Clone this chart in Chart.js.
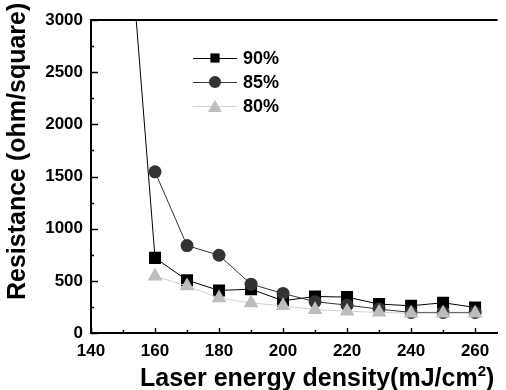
<!DOCTYPE html>
<html>
<head>
<meta charset="utf-8">
<script src="https://cdn.jsdelivr.net/npm/chart.js@4.4.0/dist/chart.umd.min.js"></script>
<style>
  html, body { margin: 0; padding: 0; background: #fff; }
  #wrap { width: 506px; height: 390px; }
</style>
</head>
<body>
<div id="wrap"><canvas id="c" width="506" height="390"></canvas></div>
<script>
  // values
  var energy   = [150, 160, 170, 180, 190, 200, 210, 220, 230, 240, 250, 260];
  var r90      = [4600, 720, 506, 408, 420, 309, 350, 344, 277, 261, 290, 245];
  var energy2  = [160, 170, 180, 190, 200, 210, 220, 230, 240, 250, 260];
  var r85      = [1545, 838, 745, 468, 379, 300, 267, 229, 197, 197, 197];
  var r80      = [545, 450, 335, 288, 260, 224, 208, 198, 190, 190, 190];
  var seriesNames = ['90%', '85%', '80%'];
  var xTicks = [140, 160, 180, 200, 220, 240, 260];
  var yTicks = [0, 500, 1000, 1500, 2000, 2500, 3000];

  var FONT = "'Liberation Sans', Arial, sans-serif";

  function pairs(xs, ys) {
    return xs.map(function (x, i) { return { x: x, y: ys[i] }; });
  }

  // inward ticks + top frame line, drawn from the scales
  var frame = {
    id: 'frame',
    afterDraw: function (chart) {
      var ctx = chart.ctx, a = chart.chartArea;
      var xs = chart.scales.x, ys = chart.scales.y;
      ctx.save();
      ctx.strokeStyle = '#000';
      ctx.lineWidth = 2;
      ctx.beginPath();
      ctx.moveTo(a.left - 1, a.top);
      ctx.lineTo(a.right, a.top);
      ctx.stroke();
      ctx.lineWidth = 1.5;
      xs.ticks.forEach(function (t) {
        var px = Math.round(xs.getPixelForValue(t.value)) + 0.5;
        var len = xTicks.indexOf(t.value) >= 0 ? 5 : 3;
        ctx.beginPath();
        ctx.moveTo(px, a.bottom);
        ctx.lineTo(px, a.bottom - len);
        ctx.stroke();
      });
      ys.ticks.forEach(function (t) {
        var py = Math.round(ys.getPixelForValue(t.value)) + 0.5;
        var len = yTicks.indexOf(t.value) >= 0 ? 7 : 3;
        ctx.beginPath();
        ctx.moveTo(a.left, py);
        ctx.lineTo(a.left + len, py);
        ctx.stroke();
      });
      ctx.restore();
    }
  };

  // axis titles drawn by hand for the cm² superscript
  var titles = {
    id: 'titles',
    afterDraw: function (chart) {
      var ctx = chart.ctx;
      ctx.save();
      ctx.fillStyle = '#000';
      ctx.textBaseline = 'alphabetic';
      var big = 'bold 25px ' + FONT, small = 'bold 15px ' + FONT;
      var main = 'Laser energy density(mJ/cm';
      ctx.font = big;
      var wMain = ctx.measureText(main).width;
      ctx.font = small;
      var wSup = ctx.measureText('2').width;
      ctx.font = big;
      var x0 = 140, y0 = 386;
      ctx.fillText(main, x0, y0);
      ctx.font = small;
      ctx.fillText('2', x0 + wMain, y0 - 10);
      ctx.font = big;
      ctx.fillText(')', x0 + wMain + wSup, y0);

      ctx.save();
      ctx.translate(25, 300);
      ctx.rotate(-Math.PI / 2);
      ctx.fillText('Resistance (ohm/square)', 0, 0);
      ctx.restore();
      ctx.restore();
    }
  };

  // legend inside the plot
  var innerLegend = {
    id: 'innerLegend',
    afterDraw: function (chart) {
      var ctx = chart.ctx;
      var rows = [58, 82, 106];
      var sizes = [6.5, 6, 8];
      ctx.save();
      chart.data.datasets.forEach(function (ds, i) {
        var y = rows[i];
        ctx.strokeStyle = ds.borderColor;
        ctx.lineWidth = 1;
        ctx.beginPath();
        ctx.moveTo(193, y + 0.5);
        ctx.lineTo(237, y + 0.5);
        ctx.stroke();
        ctx.fillStyle = ds.pointBackgroundColor;
        ctx.strokeStyle = ds.pointBackgroundColor;
        Chart.helpers.drawPoint(ctx, { pointStyle: ds.pointStyle, radius: sizes[i], borderWidth: 0 }, 215, y + (ds.pointStyle === 'triangle' ? 2 : 0));
        ctx.fillStyle = '#000';
        ctx.font = 'bold 18px ' + FONT;
        ctx.textBaseline = 'middle';
        ctx.fillText(seriesNames[i], 243, y + 1);
      });
      ctx.restore();
    }
  };

  new Chart(document.getElementById('c'), {
    type: 'line',
    data: {
      datasets: [
        {
          label: seriesNames[0], data: pairs(energy, r90), order: 3,
          borderColor: '#000', borderWidth: 1,
          pointStyle: 'rect', pointRadius: 8.5, pointBorderWidth: 0,
          pointBackgroundColor: '#000', pointBorderColor: '#000'
        },
        {
          label: seriesNames[1], data: pairs(energy2, r85), order: 2,
          borderColor: '#333', borderWidth: 1,
          pointStyle: 'circle', pointRadius: 6.5, pointBorderWidth: 0,
          pointBackgroundColor: '#333', pointBorderColor: '#333'
        },
        {
          label: seriesNames[2], data: pairs(energy2, r80), order: 1,
          borderColor: '#d0d0d0', borderWidth: 1,
          pointStyle: 'triangle', pointRadius: 8.5, pointBorderWidth: 0,
          pointBackgroundColor: '#bdbdbd', pointBorderColor: '#bdbdbd'
        }
      ]
    },
    options: {
      responsive: false,
      animation: false,
      layout: { padding: { top: 20, right: 0, left: 0, bottom: 0 } },
      plugins: { legend: { display: false }, tooltip: { enabled: false } },
      scales: {
        x: {
          type: 'linear', min: 140, max: 267,
          afterFit: function (s) { s.height = 57; },
          grid: { drawOnChartArea: false, drawTicks: false },
          border: { display: true, color: '#000', width: 2 },
          ticks: {
            stepSize: 10, autoSkip: false, includeBounds: false, maxRotation: 0,
            padding: 8, color: '#000',
            font: { family: FONT, size: 17, weight: 'bold' },
            callback: function (v) { return xTicks.indexOf(v) >= 0 ? String(v) : ''; }
          }
        },
        y: {
          type: 'linear', min: 0, max: 3000,
          afterFit: function (s) { s.width = 91; },
          grid: { drawOnChartArea: false, drawTicks: false },
          border: { display: true, color: '#000', width: 2 },
          ticks: {
            stepSize: 250, autoSkip: false, padding: 8, color: '#000',
            font: { family: FONT, size: 17, weight: 'bold' },
            callback: function (v) { return yTicks.indexOf(v) >= 0 ? String(v) : ''; }
          }
        }
      }
    },
    plugins: [frame, titles, innerLegend]
  });
</script>
</body>
</html>
